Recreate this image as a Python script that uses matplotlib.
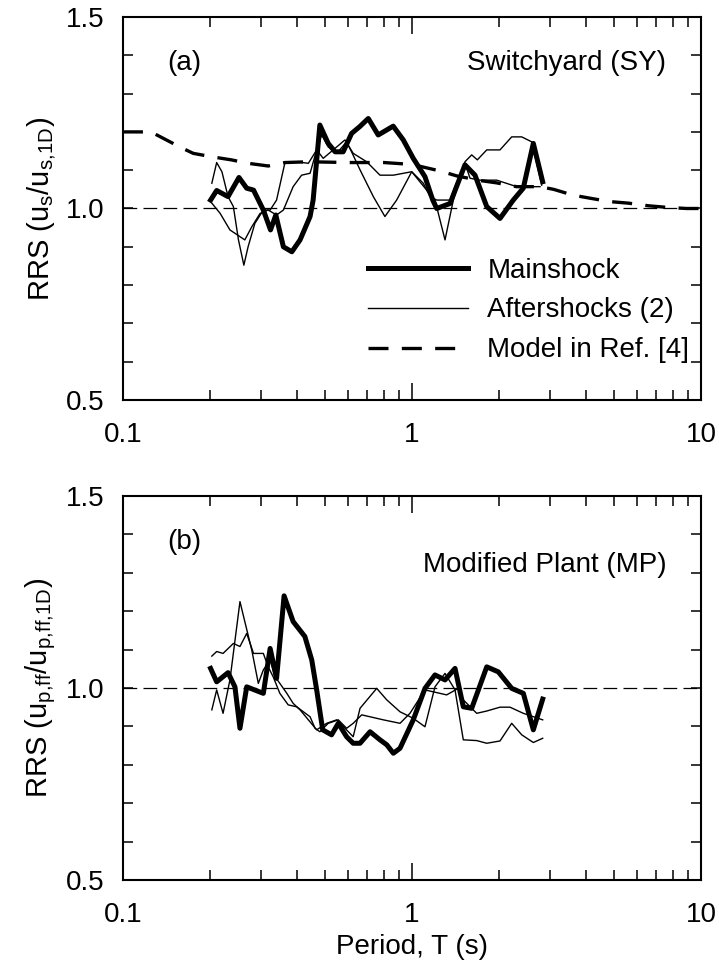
import numpy as np
import matplotlib.pyplot as plt
from matplotlib.ticker import FixedLocator, MultipleLocator, NullFormatter

plt.rcParams['font.family'] = ['Liberation Sans', 'DejaVu Sans']
plt.rcParams['mathtext.default'] = 'regular'

#%% panel (a) - Switchyard
a_main_T = [0.201, 0.211, 0.231, 0.252, 0.268, 0.283, 0.306, 0.324, 0.338, 0.359, 0.384, 0.41,
            0.444, 0.455, 0.48, 0.513, 0.542, 0.578, 0.618, 0.66, 0.706, 0.764, 0.861, 0.933,
            1.01, 1.109, 1.18, 1.218, 1.354, 1.525, 1.652, 1.814, 2.016, 2.241, 2.427, 2.629, 2.832]
a_main_V = [1.022, 1.047, 1.031, 1.081, 1.053, 1.048, 0.996, 0.944, 0.983, 0.900, 0.887, 0.918,
            0.979, 1.022, 1.218, 1.170, 1.148, 1.148, 1.196, 1.214, 1.235, 1.192, 1.215, 1.179,
            1.131, 1.083, 1.022, 1.000, 1.013, 1.114, 1.087, 1.005, 0.974, 1.022, 1.053, 1.170, 1.070]

a_after1_T = [0.203, 0.211, 0.220, 0.231, 0.241, 0.251, 0.262, 0.271, 0.286, 0.306, 0.323, 0.340,
              0.364, 0.399, 0.438, 0.468, 0.487, 0.513, 0.549, 0.594, 0.618, 0.661, 0.735, 0.806,
              0.885, 0.998, 1.124, 1.201, 1.301, 1.390, 1.525, 1.609, 1.683, 1.814, 2.016, 2.213,
              2.397, 2.596, 2.811]
a_after1_V = [1.066, 1.120, 1.096, 1.031, 1.005, 0.918, 0.852, 0.900, 0.961, 0.996, 0.996, 1.022,
              1.122, 1.122, 1.118, 1.153, 1.192, 1.161, 1.144, 1.174, 1.148, 1.101, 1.031, 0.979,
              1.022, 1.096, 1.048, 1.022, 0.918, 1.022, 1.122, 1.140, 1.127, 1.153, 1.153, 1.187,
              1.187, 1.174, 1.061]

a_after2_T = [0.203, 0.217, 0.2345, 0.264, 0.279, 0.298, 0.318, 0.340, 0.359, 0.388, 0.415, 0.444,
              0.468, 0.493, 0.534, 0.586, 0.626, 0.697, 0.775, 0.862, 0.998, 1.094, 1.154, 1.218,
              1.354, 1.409, 1.525, 1.588, 1.719, 1.964, 2.303, 2.773]
a_after2_V = [1.014, 0.987, 0.944, 0.918, 0.952, 0.987, 0.996, 0.983, 0.996, 1.057, 1.087, 1.092,
              1.153, 1.131, 1.153, 1.179, 1.144, 1.122, 1.087, 1.087, 1.096, 1.066, 1.031, 1.022,
              1.022, 1.057, 1.118, 1.079, 1.074, 1.074, 1.057, 1.057]

model_T = [0.1, 0.125, 0.157, 0.175, 0.203, 0.237, 0.271, 0.318, 0.364, 0.44, 0.6, 0.8, 1.0,
           1.25, 1.43, 1.72, 1.96, 2.3, 2.77, 3.09, 3.6, 4.12, 4.83, 5.6, 6.6, 7.6, 8.9, 10]
model_V = [1.20, 1.20, 1.161, 1.144, 1.135, 1.127, 1.118, 1.111, 1.120, 1.122, 1.120, 1.120, 1.115,
           1.098, 1.085, 1.073, 1.067, 1.057, 1.057, 1.050, 1.035, 1.027, 1.018, 1.014, 1.007,
           1.003, 1.0, 1.0]

#%% panel (b) - Modified Plant
b_main_T = [0.201, 0.211, 0.231, 0.244, 0.254, 0.268, 0.306, 0.323, 0.340, 0.361, 0.388, 0.426,
            0.450, 0.468, 0.491, 0.527, 0.556, 0.594, 0.626, 0.661, 0.716, 0.775, 0.818, 0.862,
            0.909, 1.010, 1.109, 1.201, 1.301, 1.409, 1.505, 1.609, 1.814, 1.989, 2.213, 2.428,
            2.629, 2.833]
b_main_V = [1.051, 1.016, 1.040, 1.003, 0.895, 1.003, 0.986, 1.103, 1.025, 1.240, 1.173, 1.134,
            1.073, 0.995, 0.891, 0.878, 0.908, 0.873, 0.856, 0.856, 0.886, 0.865, 0.852, 0.830,
            0.843, 0.917, 0.999, 1.034, 1.021, 1.051, 0.951, 0.947, 1.055, 1.042, 0.999, 0.986,
            0.891, 0.971]

b_after1_T = [0.203, 0.211, 0.222, 0.2345, 0.254, 0.264, 0.279, 0.294, 0.306, 0.323, 0.336, 0.349,
              0.369, 0.388, 0.410, 0.438, 0.468, 0.507, 0.549, 0.578, 0.626, 0.661, 0.755, 0.818,
              0.909, 1.010, 1.109, 1.201, 1.301, 1.409, 1.505, 1.675, 1.814, 2.016, 2.213, 2.397,
              2.629, 2.833]
b_after1_V = [0.943, 0.995, 0.934, 1.021, 1.225, 1.173, 1.099, 1.012, 1.047, 1.073, 1.029, 1.012,
              0.986, 0.960, 0.943, 0.917, 0.891, 0.908, 0.917, 0.900, 0.873, 0.947, 0.999, 0.969,
              0.938, 0.921, 0.899, 1.003, 1.038, 0.995, 0.865, 0.863, 0.856, 0.862, 0.908, 0.878,
              0.858, 0.869]

b_after2_T = [0.203, 0.211, 0.222, 0.241, 0.254, 0.268, 0.283, 0.306, 0.318, 0.331, 0.349, 0.373,
              0.399, 0.421, 0.444, 0.462, 0.480, 0.513, 0.556, 0.594, 0.626, 0.670, 0.716, 0.796,
              0.909, 0.984, 1.109, 1.318, 1.446, 1.505, 1.675, 1.814, 2.016, 2.183, 2.428, 2.833]
b_after2_V = [1.083, 1.095, 1.090, 1.116, 1.108, 1.142, 1.090, 1.090, 1.055, 1.029, 0.986, 0.956,
              0.951, 0.938, 0.925, 0.895, 0.886, 0.908, 0.917, 0.895, 0.908, 0.930, 0.925, 0.917,
              0.908, 0.934, 0.995, 0.982, 0.999, 0.969, 0.934, 0.940, 0.950, 0.950, 0.934, 0.917]

FS = 20
THICK = 3.6
THIN = 1.0


def style_axes(ax, ylabel):
    ax.set_xscale('log')
    ax.set_xlim(0.1, 10)
    ax.set_ylim(0.5, 1.5)
    ax.xaxis.set_major_locator(FixedLocator([0.1, 1, 10]))
    ax.set_xticklabels(['0.1', '1', '10'])
    ax.xaxis.set_minor_locator(FixedLocator([k * 10.0**e for e in (-1, 0) for k in range(2, 10)]))
    ax.xaxis.set_minor_formatter(NullFormatter())
    ax.yaxis.set_major_locator(FixedLocator([0.5, 1.0, 1.5]))
    ax.set_yticklabels(['0.5', '1.0', '1.5'])
    ax.yaxis.set_minor_locator(MultipleLocator(0.1))
    ax.tick_params(which='both', direction='in', top=True, right=True, labelsize=FS, width=1.1)
    ax.tick_params(axis='x', which='major', length=12, pad=16)
    ax.tick_params(axis='x', which='minor', length=7)
    ax.tick_params(axis='y', which='both', length=7, pad=13)
    for s in ax.spines.values():
        s.set_linewidth(1.5)
    ax.set_ylabel(ylabel, fontsize=FS + 1, labelpad=6)
    ax.axhline(1.0, color='black', lw=0.9, ls=(0, (11, 5)), zorder=1)


fig = plt.figure(figsize=(7.19, 9.72), dpi=100)
ax_a = fig.add_axes([0.171, 0.5885, 0.804, 0.394])
ax_b = fig.add_axes([0.171, 0.0947, 0.804, 0.395])

# (a)
style_axes(ax_a, r'RRS (u$_{s}$/u$_{s{,}1D}$)')
ax_a.plot(a_after1_T, a_after1_V, color='black', lw=THIN, label='Aftershocks (2)')
ax_a.plot(a_after2_T, a_after2_V, color='black', lw=THIN)
ax_a.plot(model_T, model_V, color='black', lw=2.4, dashes=(6, 4), label='Model in Ref. [4]')
ax_a.plot(a_main_T, a_main_V, color='black', lw=THICK, label='Mainshock')
ax_a.text(0.107, 0.88, '(a)', transform=ax_a.transAxes, fontsize=FS, ha='center', va='center')
ax_a.text(0.94, 0.88, 'Switchyard (SY)', transform=ax_a.transAxes, fontsize=FS,
          ha='right', va='center')
h, l = ax_a.get_legend_handles_labels()
order = [2, 0, 1]
ax_a.legend([h[i] for i in order], [l[i] for i in order], loc='upper left',
            bbox_to_anchor=(0.424, 0.372), frameon=False, fontsize=FS, handlelength=3.6,
            handletextpad=0.7, labelspacing=0.5, borderpad=0, borderaxespad=0)

# (b)
style_axes(ax_b, r'RRS (u$_{p{,}ff}$/u$_{p{,}ff{,}1D}$)')
ax_b.plot(b_after1_T, b_after1_V, color='black', lw=THIN)
ax_b.plot(b_after2_T, b_after2_V, color='black', lw=THIN)
ax_b.plot(b_main_T, b_main_V, color='black', lw=THICK)
ax_b.text(0.107, 0.88, '(b)', transform=ax_b.transAxes, fontsize=FS, ha='center', va='center')
ax_b.text(0.94, 0.82, 'Modified Plant (MP)', transform=ax_b.transAxes, fontsize=FS,
          ha='right', va='center')
ax_b.set_xlabel('Period, T (s)', fontsize=FS, labelpad=4)

fig.savefig('out.png', dpi=100)
